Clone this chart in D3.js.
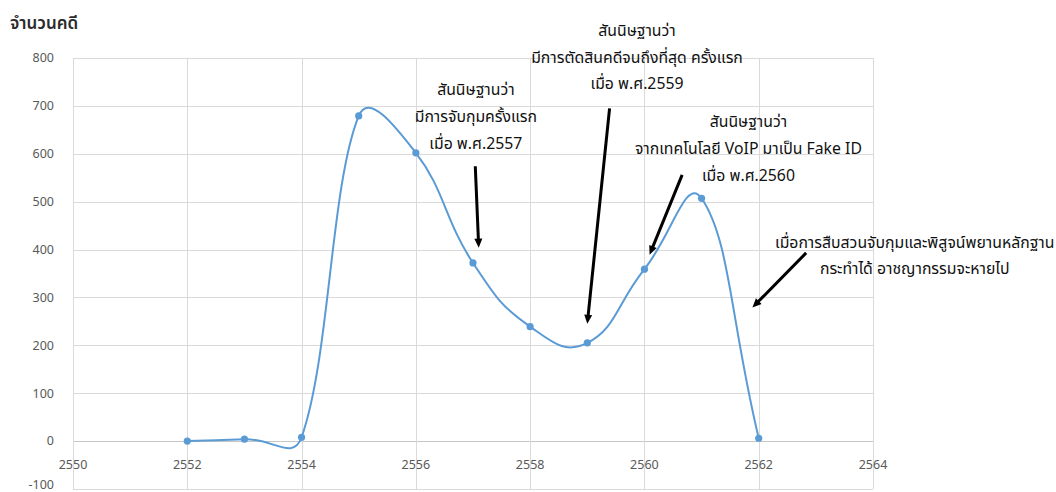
<!DOCTYPE html>
<html>
<head>
<meta charset="utf-8">
<script src="https://cdn.jsdelivr.net/npm/d3@7"></script>
<style>
  html, body { margin: 0; padding: 0; background: #fff; }
  svg { display: block; }
  .tick-label { font-family: "Noto Sans", "Liberation Sans", sans-serif; font-size: 12.5px; fill: #595959; }
  .thai { font-family: "Noto Sans Thai", "Leelawadee UI", Tahoma, "Noto Sans", sans-serif; }
</style>
</head>
<body>
<svg id="chart" width="1056" height="492"></svg>
<script>
// Yearly case counts (Buddhist Era years)
const years  = [2552, 2553, 2554, 2555, 2556, 2557, 2558, 2559, 2560, 2561, 2562];
const cases  = [0, 4, 8, 679, 602, 372, 239, 205, 359, 507, 6];

// Axis ticks
const xTicks = [2550, 2552, 2554, 2556, 2558, 2560, 2562, 2564];
const yTicks = [-100, 0, 100, 200, 300, 400, 500, 600, 700, 800];

const yTitle = "จำนวนคดี";

// Callout texts, anchored in data units (year, count of first line)
const noteLines = [
  ["สันนิษฐานว่า", "มีการจับกุมครั้งแรก", "เมื่อ พ.ศ.2557"],
  ["สันนิษฐานว่า", "มีการตัดสินคดีจนถึงที่สุด ครั้งแรก", "เมื่อ พ.ศ.2559"],
  ["สันนิษฐานว่า", "จากเทคโนโลยี VoIP มาเป็น Fake ID", "เมื่อ พ.ศ.2560"],
  ["เมื่อการสืบสวนจับกุมและพิสูจน์พยานหลักฐาน", "กระทำได้ อาชญากรรมจะหายไป"]
];
const noteAnchors = [[2557.05, 722], [2559.87, 846], [2561.82, 655], [2564.73, 404]];

// Arrows: [from, to] in data units
const arrows = [
  [[2557.04, 574], [2557.10, 404]],
  [[2559.39, 695], [2559.00, 245]],
  [[2560.66, 556], [2560.09, 389]],
  [[2562.83, 393], [2561.89, 279]]
];

const svg = d3.select("#chart");
const x = d3.scaleLinear().domain([2550, 2564]).range([73, 873]);
const y = d3.scaleLinear().domain([-100, 800]).range([489, 58]);

// Gridlines
const grid = svg.append("g");
grid.selectAll("line.h").data(yTicks).join("line")
  .attr("x1", x(2550)).attr("x2", x(2564))
  .attr("y1", d => Math.round(y(d)) + 0.5).attr("y2", d => Math.round(y(d)) + 0.5)
  .attr("stroke", d => d === 0 ? "#c6c6c6" : "#dadada").attr("stroke-width", 1);
grid.selectAll("line.v").data(xTicks).join("line")
  .attr("x1", d => Math.round(x(d)) + 0.5).attr("x2", d => Math.round(x(d)) + 0.5)
  .attr("y1", y(800)).attr("y2", y(-100))
  .attr("stroke", "#dadada").attr("stroke-width", 1);

// Tick labels
svg.append("g").selectAll("text").data(yTicks).join("text")
  .attr("class", "tick-label")
  .attr("x", 54).attr("y", d => Math.min(y(d), 485)).attr("dy", "0.35em")
  .attr("text-anchor", "end").text(d => d);
svg.append("g").selectAll("text").data(xTicks).join("text")
  .attr("class", "tick-label")
  .attr("x", d => x(d)).attr("y", y(-50)).attr("dy", "0.35em")
  .attr("text-anchor", "middle").text(d => d);

// Axis title
svg.append("text").attr("class", "thai")
  .attr("x", 10).attr("y", 29)
  .attr("font-size", 17).attr("font-weight", 600).attr("fill", "#2b2b2b")
  .text(yTitle);

// Smoothed line: cubic Béziers whose tangents are weighted by neighbouring chord lengths,
// with each handle's horizontal reach capped at half the segment width.
function smoothPath(pts, s) {
  const p = d3.path();
  const dist = (a, b) => Math.hypot(b[0] - a[0], b[1] - a[1]);
  const cap = (vx, vy, maxX) => {
    const k = Math.abs(vx) > maxX ? maxX / Math.abs(vx) : 1;
    return [vx * k, vy * k];
  };
  p.moveTo(pts[0][0], pts[0][1]);
  for (let i = 0; i < pts.length - 1; i++) {
    const p0 = pts[i - 1] || pts[i], p1 = pts[i], p2 = pts[i + 1], p3 = pts[i + 2] || pts[i + 1];
    const d01 = dist(p0, p1), d12 = dist(p1, p2), d23 = dist(p2, p3);
    const f1 = d12 / (d01 + d12) * s, f2 = d12 / (d12 + d23) * s;
    const half = (p2[0] - p1[0]) / 2;
    const v1 = cap((p2[0] - p0[0]) * f1, (p2[1] - p0[1]) * f1, half);
    const v2 = cap((p3[0] - p1[0]) * f2, (p3[1] - p1[1]) * f2, half);
    p.bezierCurveTo(p1[0] + v1[0], p1[1] + v1[1], p2[0] - v2[0], p2[1] - v2[1], p2[0], p2[1]);
  }
  return p.toString();
}

const pts = years.map((yr, i) => [x(yr), y(cases[i])]);
const lineColor = "#5b9bd5";
svg.append("path")
  .attr("d", smoothPath(pts, 0.5))
  .attr("fill", "none").attr("stroke", lineColor).attr("stroke-width", 2)
  .attr("stroke-linejoin", "round");
svg.append("g").selectAll("circle").data(years).join("circle")
  .attr("cx", d => x(d)).attr("cy", (d, i) => y(cases[i])).attr("r", 3.6)
  .attr("fill", lineColor);

// Arrows
const ag = svg.append("g");
arrows.forEach(([a, b]) => {
  const x1 = x(a[0]), y1 = y(a[1]), x2 = x(b[0]), y2 = y(b[1]);
  const len = Math.hypot(x2 - x1, y2 - y1), ux = (x2 - x1) / len, uy = (y2 - y1) / len;
  const head = 9, half = 4;
  ag.append("line")
    .attr("x1", x1).attr("y1", y1)
    .attr("x2", x2 - ux * (head - 1)).attr("y2", y2 - uy * (head - 1))
    .attr("stroke", "#000").attr("stroke-width", 3);
  const bx = x2 - ux * head, by = y2 - uy * head;
  ag.append("path")
    .attr("d", `M${x2},${y2}L${bx - uy * half},${by + ux * half}L${bx + uy * half},${by - ux * half}Z`)
    .attr("fill", "#000");
});

// Callouts
const ng = svg.append("g").attr("class", "thai").attr("font-size", 15.8).attr("fill", "#111");
noteLines.forEach((lines, i) => {
  const [yr, v] = noteAnchors[i];
  const t = ng.append("text").attr("text-anchor", "middle");
  lines.forEach((ln, j) => {
    t.append("tspan").attr("x", x(yr)).attr("y", y(v) + j * 26.7).text(ln);
  });
});
</script>
</body>
</html>
